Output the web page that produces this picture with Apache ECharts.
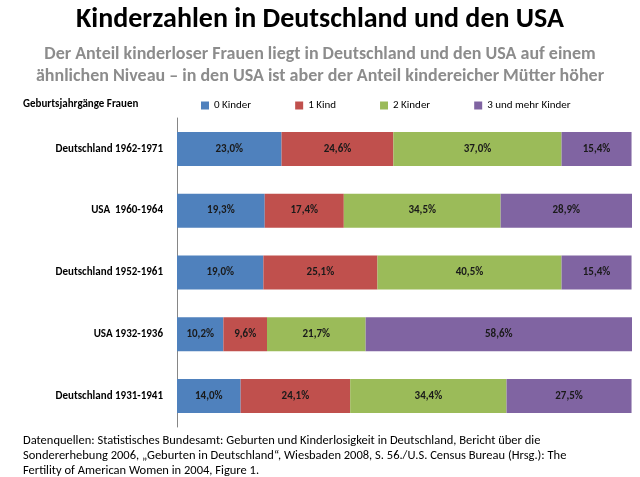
<!DOCTYPE html>
<html>
<head>
<meta charset="utf-8">
<script src="https://cdn.jsdelivr.net/npm/echarts@6/dist/echarts.min.js"></script>
<style>
  body { margin: 0; background: #fff; }
  #chart { width: 640px; height: 477px; }
</style>
</head>
<body>
<div id="chart"></div>
<script>
const categories = ['Deutschland 1962-1971', 'USA  1960-1964', 'Deutschland 1952-1961', 'USA 1932-1936', 'Deutschland 1931-1941'];
const kinder0 = [23.0, 19.3, 19.0, 10.2, 14.0];
const kinder1 = [24.6, 17.4, 25.1, 9.6, 24.1];
const kinder2 = [37.0, 34.5, 40.5, 21.7, 34.4];
const kinder3 = [15.4, 28.9, 15.4, 58.6, 27.5];
const seriesNames = ['0 Kinder', '1 Kind', '2 Kinder', '3 und mehr Kinder'];
const colors = ['#4F81BD', '#C0504D', '#9BBB59', '#8064A2'];

const chart = echarts.init(document.getElementById('chart'));
const font = 'Calibri, Carlito, "Liberation Sans", "Open Sans", sans-serif';

// Beschriftung im Balken: 23,0%
function fmt(p) {
  return p.value.toFixed(1).replace('.', ',') + '%';
}

const series = [kinder0, kinder1, kinder2, kinder3].map((d, i) => ({
  name: seriesNames[i],
  type: 'bar',
  stack: 'total',
  data: d,
  barWidth: 34,
  itemStyle: { color: colors[i] },
  label: {
    show: true,
    formatter: fmt,
    color: '#1a1a1a',
    fontWeight: 'bold',
    fontSize: 11,
    fontFamily: font
  }
}));

chart.setOption({
  animation: false,
  textStyle: { fontFamily: font },
  title: [{
    text: 'Kinderzahlen in Deutschland und den USA',
    left: 'center',
    top: 1,
    textStyle: { fontSize: 28, fontWeight: 'bold', color: '#000', fontFamily: font }
  }, {
    text: 'Der Anteil kinderloser Frauen liegt in Deutschland und den USA auf einem\nähnlichen Niveau – in den USA ist aber der Anteil kindereicher Mütter höher',
    left: 'center',
    top: 38,
    textStyle: { fontSize: 18, fontWeight: 'bold', color: '#8c8c8c', lineHeight: 22, fontFamily: font }
  }, {
    text: 'Geburtsjahrgänge Frauen',
    left: 18,
    top: 94,
    textStyle: { fontSize: 11, fontWeight: 'bold', color: '#000', fontFamily: font }
  }, {
    text: 'Datenquellen: Statistisches Bundesamt: Geburten und Kinderlosigkeit in Deutschland, Bericht über die\nSondererhebung 2006, „Geburten in Deutschland“, Wiesbaden 2008, S. 56./U.S. Census Bureau (Hrsg.): The\nFertility of American Women in 2004, Figure 1.',
    left: 18,
    top: 428,
    textStyle: { fontSize: 12.5, fontWeight: 'normal', color: '#000', lineHeight: 15, fontFamily: font }
  }],
  legend: {
    top: 95,
    left: 196,
    itemWidth: 8,
    itemHeight: 8,
    itemGap: 44,
    icon: 'rect',
    textStyle: { fontSize: 11, color: '#000' },
    data: seriesNames
  },
  grid: { left: 177, right: 8, top: 118, bottom: 50 },
  xAxis: { type: 'value', min: 0, max: 'dataMax', show: false },
  yAxis: {
    type: 'category',
    inverse: true,
    data: categories,
    axisLine: { lineStyle: { color: '#868686' } },
    axisTick: { show: false },
    axisLabel: { fontSize: 11, fontWeight: 'bold', color: '#000', margin: 14 }
  },
  series: series
});
</script>
</body>
</html>
